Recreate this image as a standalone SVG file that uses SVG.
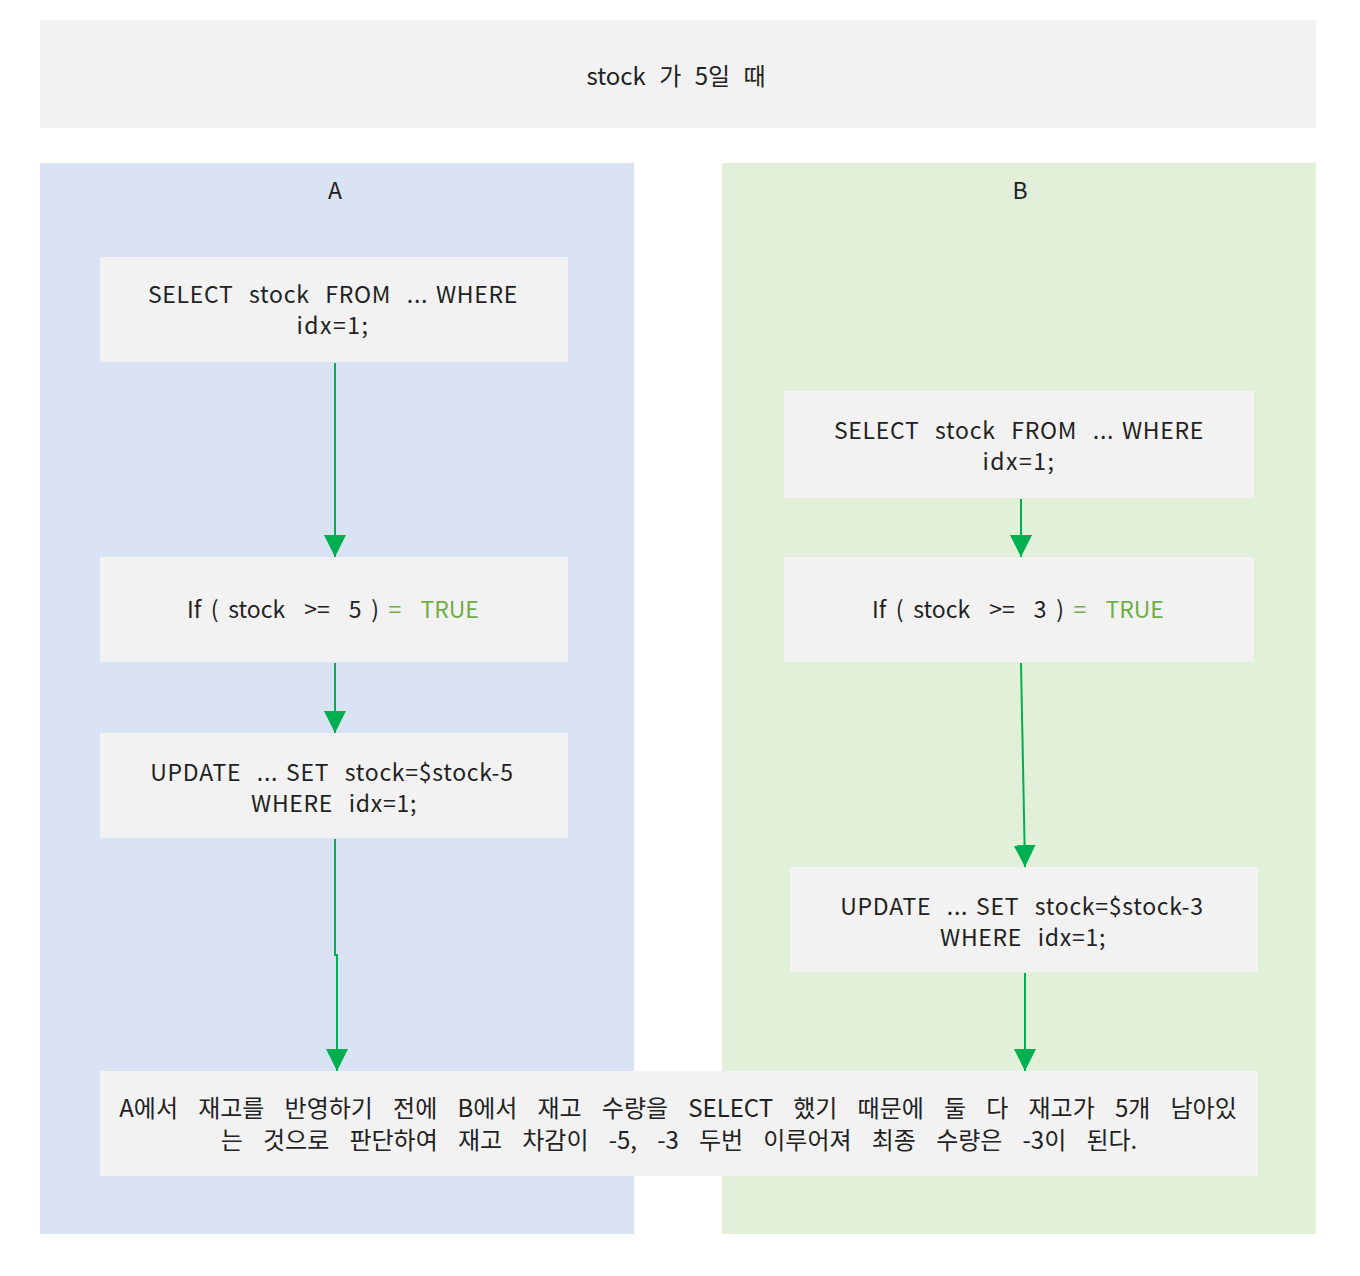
<svg xmlns="http://www.w3.org/2000/svg" width="1360" height="1276" viewBox="0 0 1360 1276">
<style>
text{font-family:"Noto Sans CJK KR","Open Sans",sans-serif;font-size:23px;fill:#222;text-anchor:middle;white-space:pre;dominant-baseline:central}
.box{fill:#f2f2f2}
.g{fill:#70ad47}
.w4{word-spacing:4.4px}
.sq{word-spacing:2px;letter-spacing:0.7px}
.tt{font-size:24px;word-spacing:8px}
.kr{font-size:24px;word-spacing:14.8px}
.conn{stroke:#00b050;stroke-width:2;fill:none}
</style>
<defs>
<marker id="ah" viewBox="0 0 22 25" refX="22" refY="11" markerWidth="22" markerHeight="25" orient="auto" markerUnits="userSpaceOnUse">
<path d="M0,0 L22,11 L0,22 Z" fill="#00b050"/>
</marker>
</defs>
<rect width="1360" height="1276" fill="#fff"/>
<g id="title"><rect class="box" x="40" y="20" width="1276" height="108"/><text class="tt" x="676" y="74">stock 가 5일 때</text></g>
<g id="laneA"><rect x="40" y="163" width="594" height="1071" fill="#dae3f3"/><text x="335" y="189">A</text></g>
<g id="laneB"><rect x="722" y="163" width="594" height="1071" fill="#e2f0d9"/><text x="1020" y="189">B</text></g>
<g id="a1"><rect class="box" x="100" y="257" width="468" height="105"/><text class="sq" x="333" y="293" xml:space="preserve">SELECT  stock  FROM  ... WHERE</text><text x="333" y="324" letter-spacing="1.5">idx=1;</text></g>
<g id="a2"><rect class="box" x="100" y="557" width="468" height="105"/><text class="w4" x="333" y="608" xml:space="preserve">If ( stock  &gt;=  5 ) <tspan class="g">=  TRUE</tspan></text></g>
<g id="a3"><rect class="box" x="100" y="733" width="468" height="105"/><text class="sq" x="332" y="771" xml:space="preserve" letter-spacing="0.9">UPDATE  ... SET  stock=$stock-5</text><text class="sq" x="334" y="802" xml:space="preserve" letter-spacing="0.9">WHERE  idx=1;</text></g>
<g id="b1"><rect class="box" x="784" y="391" width="470" height="107"/><text class="sq" x="1019" y="429" xml:space="preserve">SELECT  stock  FROM  ... WHERE</text><text x="1019" y="460" letter-spacing="1.5">idx=1;</text></g>
<g id="b2"><rect class="box" x="784" y="557" width="470" height="105"/><text class="w4" x="1018" y="608" xml:space="preserve">If ( stock  &gt;=  3 ) <tspan class="g">=  TRUE</tspan></text></g>
<g id="b3"><rect class="box" x="790" y="867" width="468" height="105"/><text class="sq" x="1022" y="905" xml:space="preserve" letter-spacing="0.9">UPDATE  ... SET  stock=$stock-3</text><text class="sq" x="1023" y="936" xml:space="preserve" letter-spacing="0.9">WHERE  idx=1;</text></g>
<g id="result"><rect class="box" x="100" y="1071" width="1158" height="105"/><text class="kr" x="678" y="1106">A에서 재고를 반영하기 전에 B에서 재고 수량을 SELECT 했기 때문에 둘 다 재고가 5개 남아있</text><text class="kr" x="679" y="1138">는 것으로 판단하여 재고 차감이 -5, -3 두번 이루어져 최종 수량은 -3이 된다.</text></g>
<g id="connectors">
<path class="conn" d="M335,363 V557" marker-end="url(#ah)"/>
<path class="conn" d="M335,663 V733" marker-end="url(#ah)"/>
<path class="conn" d="M335,839 V955 H337 V1071" marker-end="url(#ah)"/>
<path class="conn" d="M1021,499 V557" marker-end="url(#ah)"/>
<path class="conn" d="M1021,663 L1025,867" marker-end="url(#ah)"/>
<path class="conn" d="M1025,973 V1071" marker-end="url(#ah)"/>
</g>
</svg>
